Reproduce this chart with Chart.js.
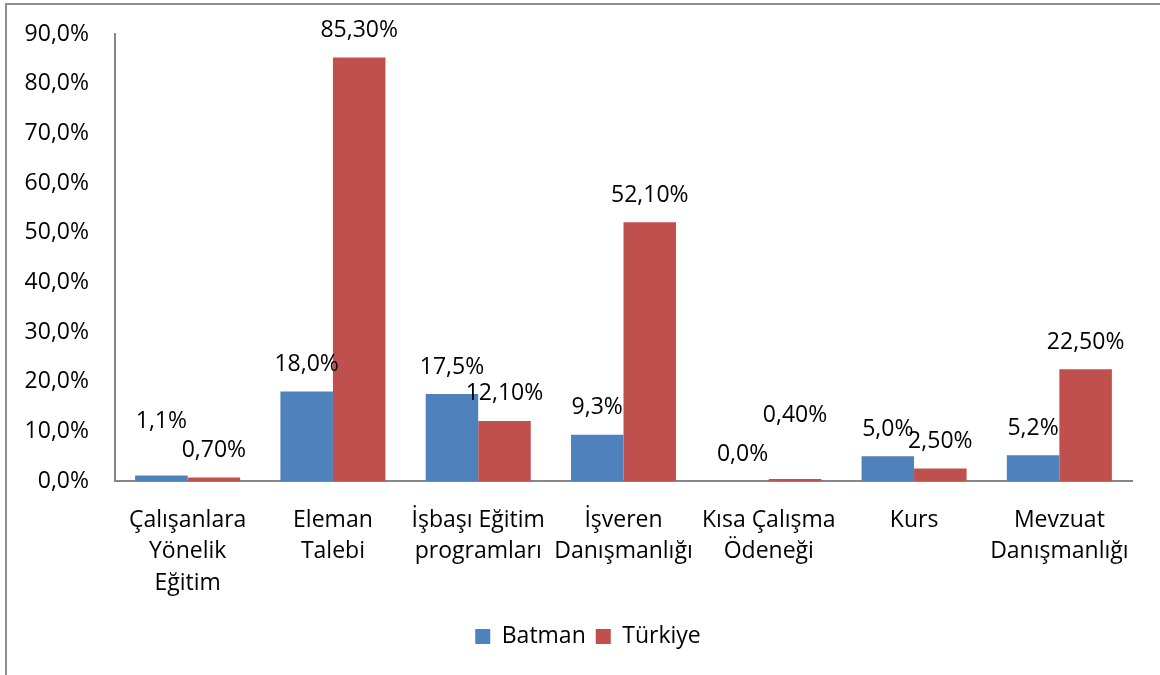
<!DOCTYPE html>
<html>
<head>
<meta charset="utf-8">
<script src="https://cdn.jsdelivr.net/npm/chart.js@4/dist/chart.umd.min.js"></script>
<style>
body{margin:0;background:#fff;overflow:hidden;}
#wrap{position:relative;width:1160px;height:675px;}
#frame{position:absolute;left:5px;top:3px;width:1200px;height:720px;border:2px solid #8e8e8e;box-sizing:border-box;}
canvas{position:absolute;left:0;top:0;}
</style>
</head>
<body>
<div id="wrap">
<div id="frame"></div>
<canvas id="chart" width="1160" height="675"></canvas>
</div>
<script>

let categories = [
["Çalışanlara","Yönelik","Eğitim"],
["Eleman","Talebi"],
["İşbaşı Eğitim","programları"],
["İşveren","Danışmanlığı"],
["Kısa Çalışma","Ödeneği"],
["Kurs"],
["Mevzuat","Danışmanlığı"]
];

let batman = [1.1, 18.0, 17.5, 9.3, 0.0, 5.0, 5.2];
let turkiye = [0.7, 85.3, 12.1, 52.1, 0.4, 2.5, 22.5];

let yTicks = [0, 10, 20, 30, 40, 50, 60, 70, 80, 90];

const FONT = "'Open Sans', sans-serif";

function pct(v, d){
return v.toFixed(d).replace(".", ",") + "%";
}

/* data labels above the bars, like the excel original */
let labelPlugin = {
id:"barLabels",
afterLayout(chart){
// legend sits right of the canvas centre in the original
chart.legend.left += 22;
chart.legend.right += 22;
},
afterDatasetsDraw(chart){
let ctx = chart.ctx;
ctx.save();
ctx.font = "23px " + FONT;
ctx.fillStyle = "#000";
ctx.textAlign = "center";
ctx.textBaseline = "middle";
chart.data.datasets.forEach((ds, di) => {
let meta = chart.getDatasetMeta(di);
meta.data.forEach((bar, i) => {
let lift = 27;
// two labels were dragged higher in the original
if(di === 0 && i === 0) lift = 54;
if(di === 1 && i === 4) lift = 64;
ctx.fillText(pct(ds.data[i], ds.decimals), bar.x, bar.y - lift);
});
});
ctx.restore();
}
};

let ctx = document.getElementById("chart").getContext("2d");

new Chart(ctx,{
type:"bar",
data:{
labels:categories,
datasets:[{
label:"Batman",
data:batman,
decimals:1,
backgroundColor:"#4F81BD"
},{
label:"Türkiye",
data:turkiye,
decimals:2,
backgroundColor:"#C0504D"
}]
},
plugins:[labelPlugin],
options:{
responsive:false,
animation:false,
devicePixelRatio:1,
layout:{
padding:{top:34, left:0, right:28, bottom:17}
},
datasets:{
bar:{
categoryPercentage:0.723,
barPercentage:1.0
}
},
plugins:{
tooltip:{enabled:false},
legend:{
position:"bottom",
labels:{
font:{family:FONT, size:23},
color:"#000",
boxWidth:15,
boxHeight:15,
padding:10
}
}
},
scales:{
x:{
grid:{display:false, drawTicks:false},
border:{display:true, color:"#868686", width:2},
ticks:{
font:{family:FONT, size:23, lineHeight:1.36},
color:"#000",
padding:24,
maxRotation:0,
autoSkip:false
},
afterFit(scale){
scale.height = 134;
scale.paddingLeft = 0;
scale.paddingRight = 0;
}
},
y:{
min:0,
max:90,
grid:{display:false, drawTicks:false},
border:{display:true, color:"#868686", width:2},
afterBuildTicks(scale){
scale.ticks = yTicks.map(v => ({value:v}));
},
ticks:{
font:{family:FONT, size:23, lineHeight:0.7},
color:"#000",
padding:26,
callback:function(v){
return pct(v, 1);
}
},
afterFit(scale){
scale.width = 115;
}
}
}
}
});

</script>
</body>
</html>
